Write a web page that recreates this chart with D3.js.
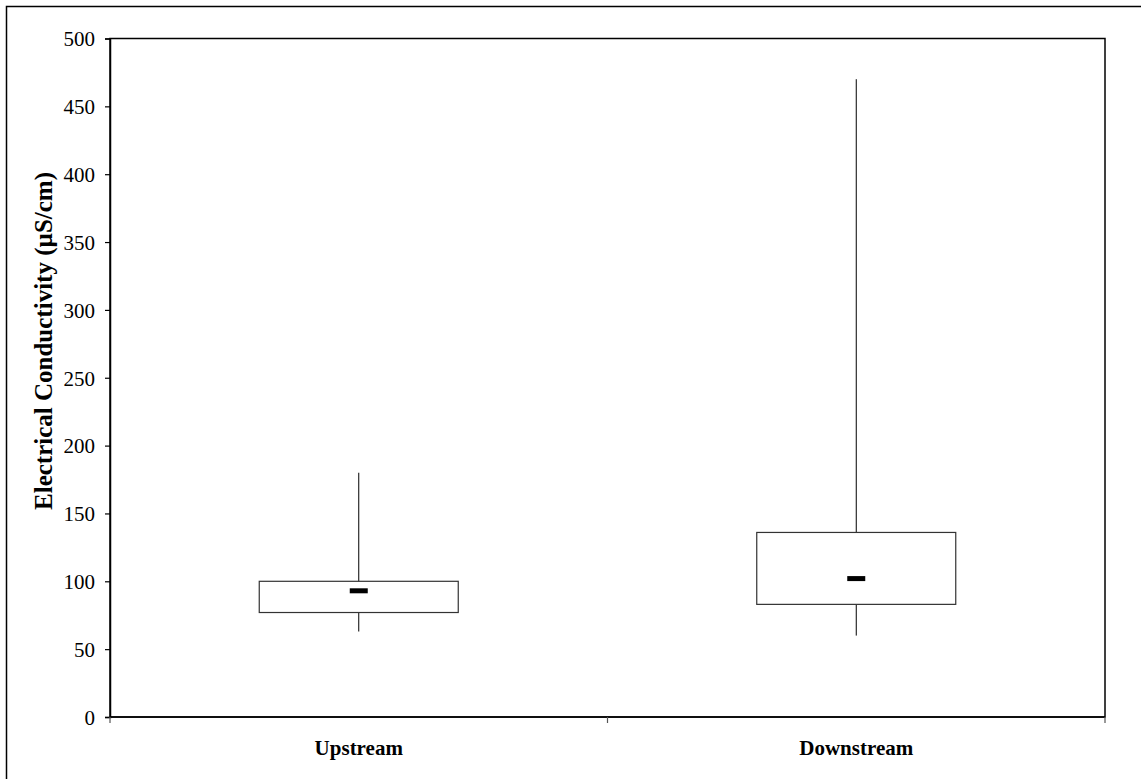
<!DOCTYPE html>
<html>
<head>
<meta charset="utf-8">
<script src="https://cdn.jsdelivr.net/npm/d3@7"></script>
<style>
  body { margin: 0; background: #fff; }
  svg text { font-family: "Liberation Serif", "DejaVu Serif", serif; fill: #000; }
</style>
</head>
<body>
<div id="chart"></div>
<script>
// data
var sites = ["Upstream", "Downstream"];
var minVals = [63, 60];
var q1Vals = [77, 83];
var medianVals = [93, 102];
var q3Vals = [100, 136];
var maxVals = [180, 470];
var yTicks = [0, 50, 100, 150, 200, 250, 300, 350, 400, 450, 500];

var W = 1141, H = 779;
var margin = {top: 38.5, right: 36, bottom: 62, left: 110},
    width = W - margin.left - margin.right,
    height = H - margin.top - margin.bottom;

var svg = d3.select("#chart")
  .append("svg")
    .attr("width", W)
    .attr("height", H);

// outer frame (runs off the right/bottom edge)
svg.append("rect")
  .attr("x", 6.5).attr("y", 6.5)
  .attr("width", W + 20).attr("height", H + 20)
  .attr("fill", "none").attr("stroke", "#000").attr("stroke-width", 1.5);

var g = svg.append("g")
  .attr("transform", "translate(" + margin.left + "," + margin.top + ")");

var x = d3.scaleBand().domain(sites).range([0, width]);
var y = d3.scaleLinear().domain([0, 500]).range([height, 0]);

// plot frame
g.append("rect")
  .attr("x", 0).attr("y", 0)
  .attr("width", width).attr("height", height)
  .attr("fill", "none").attr("stroke", "#000").attr("stroke-width", 1.5);

// y axis
var yAxis = g.append("g")
  .call(d3.axisLeft(y).tickValues(yTicks).tickSize(5).tickPadding(10));
yAxis.select(".domain").attr("stroke-width", 1.5);
yAxis.selectAll("line").attr("stroke-width", 1.2);
yAxis.selectAll("text").style("font-size", "21px").attr("dy", "0.35em");

// x axis ticks at band edges
var xAxis = g.append("g").attr("transform", "translate(0," + height + ")");
xAxis.append("path")
  .attr("d", "M0,0H" + width).attr("stroke", "#000").attr("stroke-width", 1.5);
var edges = [0].concat(sites.map(function(d) { return x(d) + x.bandwidth(); }));
xAxis.selectAll(".edge")
  .data(edges)
  .enter().append("line")
    .attr("x1", function(d) { return d; }).attr("x2", function(d) { return d; })
    .attr("y1", 0).attr("y2", 6)
    .attr("stroke", "#555").attr("stroke-width", 1.2);
xAxis.selectAll(".lab")
  .data(sites)
  .enter().append("text")
    .attr("x", function(d) { return x(d) + x.bandwidth() / 2; })
    .attr("y", 38)
    .attr("text-anchor", "middle")
    .style("font-size", "21px")
    .style("font-weight", "bold")
    .text(function(d) { return d; });

// y label
svg.append("text")
  .attr("transform", "translate(52,341) rotate(-90)")
  .attr("text-anchor", "middle")
  .style("font-size", "25px")
  .style("font-weight", "bold")
  .text("Electrical Conductivity (µS/cm)");

// boxes
var boxW = x.bandwidth() * 0.4;
var boxes = g.selectAll(".box")
  .data(sites)
  .enter().append("g");

boxes.append("line")
  .attr("x1", function(d) { return x(d) + x.bandwidth() / 2; })
  .attr("x2", function(d) { return x(d) + x.bandwidth() / 2; })
  .attr("y1", function(d, i) { return y(minVals[i]); })
  .attr("y2", function(d, i) { return y(maxVals[i]); })
  .attr("stroke", "#000").attr("stroke-width", 1);

boxes.append("rect")
  .attr("x", function(d) { return x(d) + x.bandwidth() / 2 - boxW / 2; })
  .attr("width", boxW)
  .attr("y", function(d, i) { return y(q3Vals[i]); })
  .attr("height", function(d, i) { return y(q1Vals[i]) - y(q3Vals[i]); })
  .attr("fill", "#fff").attr("stroke", "#333").attr("stroke-width", 1.2);

boxes.append("rect")
  .attr("x", function(d) { return x(d) + x.bandwidth() / 2 - 9; })
  .attr("width", 18)
  .attr("y", function(d, i) { return y(medianVals[i]) - 2.5; })
  .attr("height", 5)
  .attr("fill", "#000");
</script>
</body>
</html>
